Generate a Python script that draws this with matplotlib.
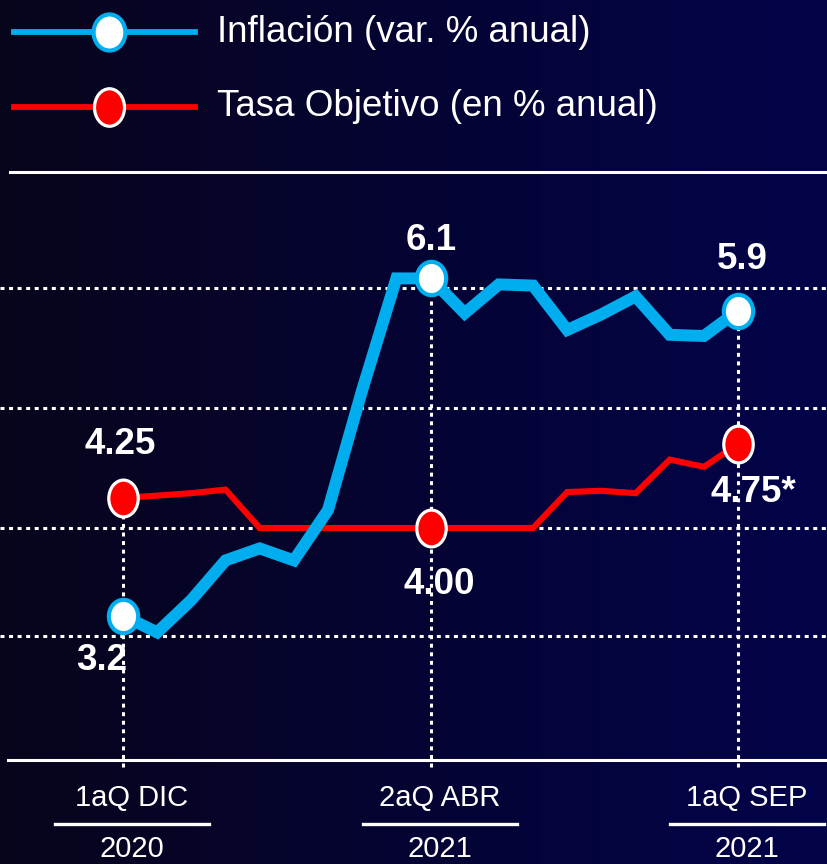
import numpy as np
import matplotlib
matplotlib.use("Agg")
from matplotlib import pyplot as plt
from matplotlib.path import Path
from matplotlib.lines import Line2D

# fortnightly observations, 1aQ DIC 2020 .. 1aQ SEP 2021
inflacion = [3.27, 3.13, 3.40, 3.73, 3.83, 3.73, 4.15, 5.15, 6.08, 6.08,
             5.79, 6.03, 6.02, 5.65, 5.78, 5.93, 5.61, 5.60, 5.81]
tasa = [4.25, 4.27, 4.29, 4.32, 4.00, 4.00, 4.00, 4.00, 4.00, 4.00,
        4.00, 4.00, 4.00, 4.30, 4.31, 4.29, 4.57, 4.51, 4.70]
hitos = [0, 9, 18]
hito_labels = ["1aQ DIC", "2aQ ABR", "1aQ SEP"]
hito_years = ["2020", "2021", "2021"]
grid_levels = [6.0, 5.0, 4.0, 3.1]

BLUE = "#00aeef"
RED = "#ff0000"
W, H = 828, 864

plt.rcParams["font.family"] = ["Liberation Sans", "DejaVu Sans"]

fig = plt.figure(figsize=(W / 100, H / 100), dpi=100)

# background gradient
bg = fig.add_axes([0, 0, 1, 1])
grad = np.linspace(0, 1, 256)
left = np.array([0.03, 0.02, 0.11])
right = np.array([0.01, 0.01, 0.29])
img = left[None, :] + grad[:, None] * (right - left)[None, :]
bg.imshow(img[None, :, :], aspect="auto", extent=[0, 1, 0, 1])
bg.axis("off")

ax = fig.add_axes([0, 0, 1, 1])
ax.patch.set_alpha(0)
ax.axis("off")
# 34.17 px per fortnight, 120 px per percentage point
ax.set_xlim(-123 / 34.17, (W - 123) / 34.17)
ax.set_ylim(4 - (H - 528) / 120, 4 + 528 / 120)

ell = Path.unit_circle()
blue_mk = Path(ell.vertices * [0.88, 1.0], ell.codes)
red_mk = Path(ell.vertices * [0.8, 1.0], ell.codes)

def px(x, y):
    return x / W, 1 - y / H

dots = (0, (1.3, 1.5))
for g in grid_levels:
    ax.axhline(g, color="white", lw=2.2, ls=dots, zorder=1)

x = np.arange(len(inflacion))
for i in hitos:
    top = max(inflacion[i], tasa[i])
    ax.plot([i, i], [2.01, top], color="white", lw=2.2, ls=dots, zorder=1)

ax.plot(x, tasa, color=RED, lw=4.4, solid_joinstyle="miter", zorder=3)
ax.plot(x, inflacion, color=BLUE, lw=8.6, solid_joinstyle="miter", zorder=4)
ax.plot(hitos, [tasa[i] for i in hitos], ls="none", marker=red_mk, ms=26.5,
        mfc=RED, mec="white", mew=2.3, zorder=5)
ax.plot(hitos, [inflacion[i] for i in hitos], ls="none", marker=blue_mk, ms=24,
        mfc="white", mec=BLUE, mew=3.0, zorder=6)

# solid frame lines
fig.add_artist(Line2D([10 / W, 1], [1 - 172 / H] * 2, color="white", lw=2.2))
fig.add_artist(Line2D([8 / W, 1], [1 - 760 / H] * 2, color="white", lw=2.2))

# value labels
lab = dict(textcoords="offset pixels", ha="center", va="center",
           color="white", fontsize=26.5, fontweight="bold", zorder=7)
ax.annotate("4.25", (0, tasa[0]), xytext=(-3, 53), **lab)
ax.annotate("3.2", (0, inflacion[0]), xytext=(-21, -45), **lab)
ax.annotate("6.1", (9, inflacion[9]), xytext=(1, 38), **lab)
ax.annotate("4.00", (9, tasa[9]), xytext=(9, -57), **lab)
ax.annotate("5.9", (18, inflacion[18]), xytext=(4, 51), **lab)
ax.annotate("4.75*", (18, tasa[18]), xytext=(15, -49), **lab)

# bottom period labels
for i, t, yr in zip(hitos, hito_labels, hito_years):
    cx = ax.transData.transform((i, 0))[0] + 9
    fig.text(cx / W, 1 - 798 / H, t, ha="center", va="center",
             color="white", fontsize=21)
    fig.add_artist(Line2D([(cx - 77) / W, (cx + 77) / W], [1 - 824 / H] * 2,
                          color="white", lw=2.4))
    fig.text(cx / W, 1 - 849 / H, yr, ha="center", va="center",
             color="white", fontsize=21)

# legend
for yy, col, mk, fc, ec, mew, ms, name in [
        (32, BLUE, blue_mk, "white", BLUE, 3.0, 26, "Inflación (var. % anual)"),
        (107, RED, red_mk, RED, "white", 2.3, 27, "Tasa Objetivo (en % anual)")]:
    fig.add_artist(Line2D([14 / W, 195 / W], [1 - yy / H] * 2, color=col, lw=4.2))
    fig.add_artist(Line2D([109 / W], [1 - yy / H], ls="none", marker=mk, ms=ms,
                          mfc=fc, mec=ec, mew=mew))
    fig.text(*px(217, yy), name, ha="left", va="center", color="white",
             fontsize=26.5)

fig.savefig("out.png", dpi=100)
